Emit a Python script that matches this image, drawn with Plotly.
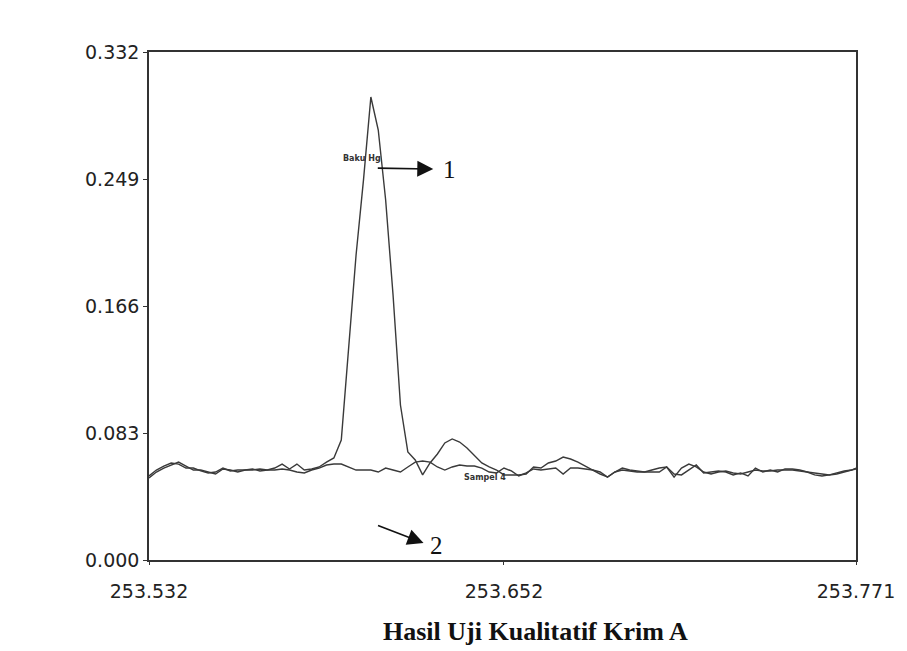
import plotly.graph_objects as go

# Wavelength (nm)
wavelength = [
    253.532, 253.5345, 253.537, 253.5395, 253.542, 253.5445, 253.547, 253.5495, 253.552, 253.5545,
    253.557, 253.5595, 253.562, 253.5645, 253.567, 253.5695, 253.572, 253.5745, 253.577, 253.5795,
    253.582, 253.5845, 253.587, 253.5895, 253.592, 253.5945, 253.597, 253.5995, 253.602, 253.6045,
    253.607, 253.6095, 253.612, 253.6145, 253.617, 253.6195, 253.622, 253.6245, 253.627, 253.6295,
    253.632, 253.6345, 253.637, 253.6395, 253.642, 253.6445, 253.647, 253.6495, 253.652, 253.6545,
    253.657, 253.6595, 253.662, 253.6645, 253.667, 253.6695, 253.672, 253.6745, 253.677, 253.6795,
    253.682, 253.6845, 253.687, 253.6895, 253.692, 253.6945, 253.697, 253.6995, 253.702, 253.7045,
    253.707, 253.7095, 253.712, 253.7145, 253.717, 253.7195, 253.722, 253.7245, 253.727, 253.7295,
    253.732, 253.7345, 253.737, 253.7395, 253.742, 253.7445, 253.747, 253.7495, 253.752, 253.7545,
    253.757, 253.7595, 253.762, 253.7645, 253.767, 253.7695, 253.771,
]

# Absorbance - Baku Hg (standard)
baku_hg = [
    0.0549, 0.0588, 0.0614, 0.0634, 0.0627, 0.0601, 0.0601, 0.0582, 0.0569, 0.0575,
    0.0601, 0.0582, 0.0588, 0.0588, 0.0595, 0.0582, 0.0588, 0.0601, 0.0627, 0.0595,
    0.0627, 0.0588, 0.0595, 0.0608, 0.0640, 0.0667, 0.0784, 0.1405, 0.1993, 0.2483,
    0.3026, 0.2810, 0.2353, 0.1732, 0.1013, 0.0706, 0.0654, 0.0556, 0.0634, 0.0693,
    0.0765, 0.0791, 0.0771, 0.0732, 0.0680, 0.0634, 0.0608, 0.0588, 0.0556, 0.0556,
    0.0556, 0.0562, 0.0608, 0.0601, 0.0634, 0.0647, 0.0673, 0.0660, 0.0640, 0.0614,
    0.0588, 0.0575, 0.0542, 0.0575, 0.0601, 0.0588, 0.0582, 0.0575, 0.0588, 0.0601,
    0.0608, 0.0562, 0.0556, 0.0588, 0.0621, 0.0569, 0.0575, 0.0582, 0.0575, 0.0556,
    0.0569, 0.0549, 0.0601, 0.0575, 0.0588, 0.0575, 0.0595, 0.0595, 0.0588, 0.0575,
    0.0556, 0.0549, 0.0556, 0.0569, 0.0582, 0.0588, 0.0595,
]

# Absorbance - Sampel 4
sampel_4 = [
    0.0536, 0.0575, 0.0601, 0.0621, 0.0640, 0.0614, 0.0588, 0.0588, 0.0575, 0.0562,
    0.0595, 0.0588, 0.0575, 0.0588, 0.0588, 0.0595, 0.0588, 0.0588, 0.0595, 0.0588,
    0.0575, 0.0569, 0.0588, 0.0601, 0.0621, 0.0627, 0.0627, 0.0608, 0.0588, 0.0588,
    0.0588, 0.0575, 0.0601, 0.0588, 0.0575, 0.0608, 0.0640, 0.0647, 0.0640, 0.0608,
    0.0588, 0.0608, 0.0621, 0.0614, 0.0614, 0.0601, 0.0575, 0.0569, 0.0601, 0.0582,
    0.0549, 0.0569, 0.0595, 0.0588, 0.0595, 0.0601, 0.0562, 0.0601, 0.0601, 0.0595,
    0.0588, 0.0562, 0.0542, 0.0575, 0.0588, 0.0582, 0.0575, 0.0575, 0.0575, 0.0575,
    0.0608, 0.0542, 0.0601, 0.0627, 0.0608, 0.0575, 0.0562, 0.0575, 0.0582, 0.0569,
    0.0562, 0.0575, 0.0588, 0.0582, 0.0582, 0.0588, 0.0588, 0.0588, 0.0582, 0.0575,
    0.0569, 0.0562, 0.0556, 0.0562, 0.0575, 0.0588, 0.0601,
]

y_ticks = [0.0, 0.083, 0.166, 0.249, 0.332]
y_tick_labels = ["0.000", "0.083", "0.166", "0.249", "0.332"]
x_ticks = [253.532, 253.652, 253.771]
x_tick_labels = ["253.532", "253.652", "253.771"]

line_color = "#3a3a3a"

fig = go.Figure()
fig.add_trace(go.Scatter(x=wavelength, y=sampel_4, mode="lines", name="Sampel 4",
                         line=dict(color=line_color, width=1.4)))
fig.add_trace(go.Scatter(x=wavelength, y=baku_hg, mode="lines", name="Baku Hg",
                         line=dict(color=line_color, width=1.4)))

fig.update_layout(
    width=899, height=643,
    margin=dict(l=141, r=47, t=44, b=91),
    paper_bgcolor="white", plot_bgcolor="white",
    showlegend=False,
    font=dict(family="DejaVu Sans, sans-serif", size=19, color="#222"),
)
fig.update_xaxes(
    range=[253.532, 253.771], tickvals=x_ticks, ticktext=x_tick_labels,
    showgrid=False, zeroline=False, showline=True, linecolor="#333", linewidth=1.5,
    mirror=True, ticks="outside", ticklen=3, tickcolor="#333", ticklabelstandoff=10,
)
fig.update_yaxes(
    range=[0, 0.332], tickvals=y_ticks, ticktext=y_tick_labels,
    showgrid=False, zeroline=False, showline=True, linecolor="#333", linewidth=1.5,
    mirror=True, ticks="outside", ticklen=4, tickcolor="#333", ticklabelstandoff=0,
)

# small curve labels
fig.add_annotation(x=253.604, y=0.2627, text="<b>Baku Hg</b>", showarrow=False,
                   font=dict(size=8, color="#333", family="DejaVu Sans"))
fig.add_annotation(x=253.6455, y=0.0536, text="<b>Sampel 4</b>", showarrow=False,
                   font=dict(size=8, color="#333", family="DejaVu Sans"))

# arrows
fig.add_annotation(x=253.6281, y=0.2555, text="", showarrow=True, ax=-57, ay=-1,
                   arrowhead=2, arrowsize=2, arrowwidth=1.6, arrowcolor="#111")
fig.add_annotation(x=253.6248, y=0.0111, text="", showarrow=True, ax=-47, ay=-18,
                   arrowhead=2, arrowsize=2, arrowwidth=1.6, arrowcolor="#111")
fig.add_annotation(x=253.6335, y=0.2555, text="1", showarrow=False,
                   font=dict(size=25, color="#111", family="Liberation Serif, Times New Roman"))
fig.add_annotation(x=253.6291, y=0.0098, text="2", showarrow=False,
                   font=dict(size=25, color="#111", family="Liberation Serif, Times New Roman"))

# caption
fig.add_annotation(xref="paper", yref="paper", x=0.547, y=-0.1398, text="<b>Hasil Uji Kualitatif Krim A</b>",
                   showarrow=False, yanchor="middle",
                   font=dict(size=26, color="#111", family="Liberation Serif, Times New Roman"))

fig.write_html("out.html")
